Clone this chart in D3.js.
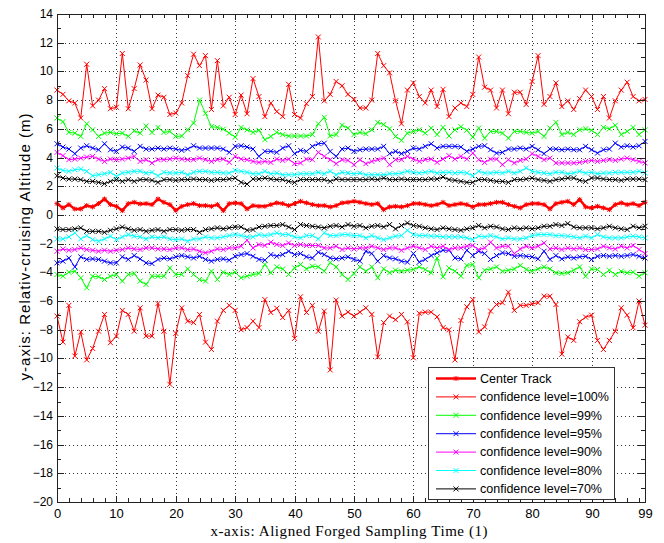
<!DOCTYPE html>
<html>
<head>
<meta charset="utf-8">
<script src="https://cdn.jsdelivr.net/npm/d3@7"></script>
<style>
  body { margin: 0; background: #fff; }
  text { font-family: 'Liberation Sans', Arial, sans-serif; fill: #000; }
  .grid line { stroke: #333; stroke-dasharray: 1,3; }
  .grid path { display: none; }
  .tk path { display: none; }
  .tk line { stroke: #222; }
</style>
</head>
<body>
<div id="plot"></div>
<script>

// ---- data ----
var xTicks = [0, 10, 20, 30, 40, 50, 60, 70, 80, 90, 99];
var yTicks = [-20, -18, -16, -14, -12, -10, -8, -6, -4, -2, 0, 2, 4, 6, 8, 10, 12, 14];

var legendLabels = ['Center Track', 'confidence level=100%', 'confidence level=99%', 'confidence level=95%',
  'confidence level=90%', 'confidence level=80%', 'confidence level=70%'];
var levelColors = ['#ff0000', '#ff0000', '#00ff00', '#0000ff', '#ff00ff', '#00ffff', '#000000'];

var center = [0.79,0.49,0.72,0.42,0.42,0.65,0.56,0.79,1.11,0.72,
  0.6,0.3,0.79,0.88,0.77,0.79,0.72,1.11,0.88,0.72,
  0.32,0.6,0.72,0.79,0.65,0.65,0.6,0.72,0.3,0.79,
  0.84,0.79,0.42,0.65,0.6,0.6,0.72,0.84,0.79,0.65,
  0.79,0.95,0.84,0.72,0.65,0.65,0.56,0.65,0.84,0.88,
  0.95,0.88,0.79,0.72,0.79,0.37,0.56,0.6,0.56,0.65,
  0.79,0.79,0.72,0.65,0.72,0.88,0.65,0.72,0.79,0.72,
  0.56,0.72,0.72,0.79,0.88,0.88,0.72,0.6,0.49,0.72,
  0.79,0.79,0.72,0.42,0.79,0.88,0.95,0.72,1.07,0.56,
  0.49,0.6,0.49,0.37,0.72,0.84,0.72,0.79,0.65,0.88];

var up100 = [8.7,8.4,7.95,7.8,6.75,10.5,7.6,8.0,8.8,7.4,
  7.5,11.25,7.4,8.8,10.45,9.4,7.4,8.35,8.2,7.0,
  7.1,7.8,9.7,11.2,10.4,11.1,7.35,10.75,7.6,8.2,
  7.0,8.35,7.05,9.5,8.25,6.85,7.8,7.2,6.85,9.1,
  7.0,6.75,7.75,8.25,12.4,7.95,8.4,9.3,9.0,8.4,
  8.05,7.45,7.45,8.0,11.25,10.4,9.9,7.95,6.35,8.7,
  9.2,8.25,7.8,8.7,7.55,8.75,6.85,7.45,7.8,7.55,
  8.4,11.0,8.9,8.7,7.45,8.7,7.05,8.55,8.55,7.7,
  9.3,11.1,7.7,8.25,9.2,7.55,7.95,7.35,8.1,8.7,
  8.25,7.35,8.25,6.75,7.95,8.7,9.25,8.25,7.95,8.05];

var lo100 = [-7.05,-8.86,-6.3,-9.83,-8.16,-10.1,-9.3,-8.1,-6.93,-8.9,
  -8.44,-6.65,-6.93,-8.1,-6.47,-8.44,-8.44,-6.17,-8.1,-11.8,
  -8.25,-6.47,-7.4,-7.5,-6.93,-8.86,-9.37,-7.4,-6.65,-6.3,
  -6.65,-8.0,-7.85,-7.4,-7.85,-5.9,-6.8,-6.5,-7.15,-6.65,
  -8.6,-5.7,-6.8,-6.3,-8.1,-6.7,-10.8,-5.93,-7.05,-6.77,
  -7.05,-6.77,-6.47,-6.93,-9.9,-7.5,-7.05,-7.3,-6.93,-7.45,
  -9.95,-6.85,-6.77,-6.77,-7.1,-7.85,-8.0,-10.1,-7.35,-6.4,
  -5.9,-8.15,-7.8,-6.7,-6.24,-6.12,-5.38,-6.65,-6.3,-6.3,
  -6.19,-6.12,-5.66,-5.66,-6.24,-9.7,-8.5,-8.74,-7.44,-7.12,
  -6.98,-8.74,-9.37,-8.74,-8.1,-6.47,-6.98,-7.86,-6.0,-7.68];

var up99 = [6.75,6.5,5.75,5.7,5.47,6.35,5.93,5.47,5.7,5.75,
  5.66,5.7,5.47,5.86,5.7,6.2,5.75,6.1,5.75,5.82,
  5.47,5.5,5.93,6.4,8.0,7.08,6.15,6.1,5.98,5.7,
  5.42,6.1,5.93,5.75,5.9,5.24,5.47,5.75,5.6,5.5,
  5.5,5.5,5.5,5.6,6.35,6.8,5.5,5.6,6.25,6.05,
  5.6,5.75,5.66,5.93,6.45,6.3,6.0,5.47,5.2,5.7,
  5.82,5.93,5.7,6.05,5.6,6.1,5.5,5.93,6.15,5.9,
  5.42,6.05,5.35,5.82,5.82,5.7,5.35,5.82,5.82,5.75,
  5.7,5.82,5.47,6.05,6.45,5.6,5.75,5.6,5.93,6.0,
  5.9,5.6,6.1,6.0,6.25,5.6,5.82,6.1,5.6,5.93];

var lo99 = [-4.15,-4.27,-3.99,-3.92,-4.38,-5.08,-4.27,-4.31,-4.5,-4.27,
  -4.15,-4.61,-4.15,-4.08,-4.61,-4.84,-4.27,-4.27,-4.27,-3.69,
  -4.15,-4.15,-3.76,-4.15,-4.5,-4.61,-3.92,-4.5,-3.99,-4.15,
  -3.99,-4.38,-4.27,-4.15,-4.08,-3.45,-4.03,-3.62,-3.76,-4.15,
  -3.69,-3.45,-3.76,-3.57,-3.62,-3.92,-3.32,-3.62,-4.15,-4.5,
  -4.08,-3.62,-3.92,-3.62,-4.38,-3.76,-4.03,-3.85,-3.92,-3.85,
  -3.8,-3.62,-3.8,-4.03,-3.0,-4.31,-3.69,-3.92,-4.27,-3.52,
  -3.45,-4.38,-3.85,-3.76,-3.62,-3.92,-3.85,-3.76,-3.52,-3.8,
  -3.92,-3.76,-3.62,-3.76,-4.03,-4.08,-4.03,-3.85,-3.62,-4.27,
  -3.76,-3.8,-4.15,-3.85,-4.15,-3.92,-4.03,-3.99,-4.27,-4.03];

var up95 = [4.96,4.73,4.59,4.27,4.66,4.82,4.66,4.54,4.96,4.54,
  4.43,4.73,4.66,4.43,4.78,4.59,4.59,4.66,4.59,4.66,
  4.59,4.5,4.59,4.82,4.66,4.66,4.66,4.66,4.59,4.36,
  4.78,4.82,4.73,4.59,4.08,4.43,4.43,4.36,4.66,4.82,
  4.27,4.5,4.43,4.78,4.96,5.0,4.43,4.08,4.59,4.66,
  4.43,4.54,4.59,4.59,4.59,4.78,4.27,4.43,4.27,4.43,
  4.66,4.59,4.78,4.96,4.66,4.78,4.78,4.78,4.73,4.43,
  4.59,4.78,4.82,4.54,4.31,4.36,4.59,4.59,4.66,4.59,
  4.78,4.54,4.27,4.59,4.59,4.54,4.59,4.54,4.54,4.78,
  4.54,4.31,4.54,4.59,5.0,4.73,4.82,4.73,4.82,5.12];

var lo95 = [-3.34,-3.22,-3.0,-3.62,-2.92,-3.1,-3.06,-3.1,-3.22,-3.34,
  -3.34,-2.92,-3.1,-2.83,-3.06,-3.34,-3.39,-3.1,-3.0,-3.06,
  -2.92,-2.83,-2.92,-3.0,-2.88,-3.1,-3.22,-3.1,-3.06,-3.15,
  -2.88,-2.76,-2.69,-2.88,-3.1,-3.15,-2.76,-2.88,-2.76,-2.53,
  -2.76,-2.69,-2.92,-3.0,-2.6,-2.76,-3.0,-3.06,-3.0,-2.92,
  -3.1,-3.22,-2.53,-2.69,-3.22,-2.83,-3.0,-3.06,-3.22,-3.29,
  -2.69,-3.29,-3.1,-2.83,-2.64,-2.46,-2.46,-3.0,-3.06,-2.46,
  -2.83,-2.53,-2.69,-3.1,-2.83,-2.64,-2.69,-2.88,-2.83,-2.88,
  -2.92,-3.06,-2.53,-3.1,-2.83,-3.06,-2.92,-3.0,-2.92,-2.88,
  -3.1,-2.88,-2.83,-2.88,-2.83,-2.88,-2.83,-2.76,-2.88,-3.0];

var up90 = [4.36,4.13,3.85,3.89,3.96,4.03,4.08,3.89,3.73,3.89,
  3.85,3.89,3.96,4.08,3.73,3.85,3.62,3.85,3.85,3.89,
  3.96,3.89,3.85,3.85,3.96,3.85,3.73,3.85,3.89,3.66,
  4.08,3.89,3.85,3.73,3.66,3.73,3.66,3.89,3.8,3.89,
  3.57,3.62,3.89,3.85,4.36,4.08,3.85,3.57,3.85,3.8,
  3.5,3.85,3.57,3.73,3.85,3.96,3.5,3.85,3.85,4.08,
  3.89,3.73,3.85,3.89,3.66,3.89,4.13,3.89,4.08,3.89,
  4.31,3.85,3.66,3.89,3.89,3.5,3.85,3.62,3.8,3.89,
  4.27,4.08,3.85,3.96,3.62,3.62,3.62,3.62,3.66,3.73,
  3.8,3.73,3.8,3.85,3.8,3.89,3.96,3.85,3.73,3.62];

var lo90 = [-2.53,-2.37,-2.46,-2.41,-2.3,-2.41,-2.46,-2.53,-2.46,-2.53,
  -2.46,-2.41,-2.3,-2.37,-2.41,-2.3,-2.3,-2.37,-2.37,-2.41,
  -2.3,-2.3,-2.41,-2.37,-2.53,-2.64,-2.53,-2.37,-2.41,-2.3,
  -2.3,-2.18,-1.76,-2.3,-2.06,-2.13,-1.9,-2.06,-2.13,-1.95,
  -2.13,-2.06,-2.13,-2.13,-2.13,-2.3,-2.3,-2.18,-2.41,-2.3,
  -2.37,-2.3,-2.3,-2.18,-2.3,-2.41,-2.3,-2.3,-2.46,-2.3,
  -2.18,-2.3,-2.41,-2.18,-2.3,-2.18,-2.41,-2.3,-2.3,-2.18,
  -2.13,-2.41,-2.3,-1.9,-2.3,-2.18,-2.18,-2.69,-2.37,-2.18,
  -2.3,-2.18,-1.95,-2.37,-2.3,-2.41,-2.3,-2.37,-2.3,-2.41,
  -2.41,-2.37,-2.18,-2.3,-2.37,-2.18,-2.3,-2.13,-2.41,-2.69];

var up80 = [3.27,3.1,3.04,3.15,3.2,3.04,2.73,2.8,2.87,2.97,
  2.69,2.92,2.97,3.04,3.04,2.92,2.97,2.73,2.97,2.92,
  2.92,2.97,2.8,2.97,3.04,3.04,2.97,2.97,2.92,2.92,
  3.1,3.04,2.97,2.87,2.87,3.04,2.87,2.92,2.8,2.8,
  2.8,2.87,2.87,2.87,2.97,2.87,3.04,2.8,2.97,2.92,
  2.87,2.92,2.8,2.8,2.8,2.8,2.87,2.87,2.92,3.04,
  2.97,2.92,2.97,3.04,2.92,2.97,2.97,2.92,2.97,2.92,
  2.73,3.04,2.92,2.92,2.97,2.92,3.04,2.92,3.04,3.27,
  3.04,2.97,2.92,2.87,2.97,2.97,2.87,2.92,3.04,2.92,
  2.97,2.87,2.92,2.92,2.97,2.97,2.97,2.97,3.04,2.92];

var lo80 = [-1.67,-1.67,-1.53,-1.25,-1.67,-1.44,-1.72,-1.83,-1.67,-1.48,
  -1.72,-1.53,-1.37,-1.48,-1.53,-1.67,-1.53,-1.6,-1.53,-1.67,
  -1.72,-1.67,-1.83,-1.67,-1.67,-1.53,-1.6,-1.6,-1.53,-1.44,
  -1.37,-1.44,-1.53,-1.53,-1.37,-1.44,-1.37,-1.25,-1.37,-1.37,
  -1.53,-1.6,-1.44,-1.44,-1.67,-1.25,-1.44,-1.44,-1.37,-1.37,
  -1.44,-1.44,-1.6,-1.44,-1.6,-1.72,-1.6,-1.48,-1.44,-1.07,
  -1.37,-1.44,-1.44,-1.48,-1.48,-1.53,-1.53,-1.53,-1.53,-1.6,
  -1.72,-1.48,-1.53,-1.44,-1.53,-1.67,-1.6,-1.67,-1.67,-1.6,
  -1.44,-1.37,-1.37,-1.37,-1.44,-1.44,-1.48,-1.53,-1.6,-1.48,
  -1.6,-1.37,-1.53,-1.6,-1.6,-1.6,-1.53,-1.48,-1.53,-1.6];

var up70 = [2.73,2.57,2.5,2.5,2.46,2.34,2.34,2.27,2.18,2.34,
  2.46,2.34,2.46,2.34,2.46,2.46,2.41,2.27,2.46,2.46,
  2.41,2.46,2.46,2.5,2.46,2.46,2.41,2.46,2.46,2.5,
  2.57,2.27,2.15,2.5,2.5,2.57,2.5,2.46,2.46,2.34,
  2.27,2.46,2.46,2.46,2.46,2.46,2.34,2.5,2.46,2.46,
  2.46,2.46,2.46,2.5,2.46,2.57,2.46,2.46,2.5,2.46,
  2.46,2.46,2.46,2.5,2.5,2.64,2.46,2.41,2.34,2.27,
  2.27,2.46,2.46,2.41,2.34,2.34,2.27,2.46,2.46,2.5,
  2.57,2.46,2.41,2.34,2.46,2.5,2.57,2.57,2.41,2.34,
  2.57,2.57,2.5,2.46,2.46,2.41,2.5,2.5,2.5,2.46];

var lo70 = [-0.97,-1.02,-1.02,-0.97,-0.9,-1.14,-1.14,-1.14,-1.21,-1.07,
  -0.97,-0.84,-0.97,-1.07,-1.02,-1.14,-1.07,-1.02,-1.14,-1.02,
  -1.02,-1.07,-1.02,-1.02,-1.21,-1.02,-0.97,-0.9,-0.97,-0.9,
  -0.84,-0.84,-1.07,-1.02,-0.84,-0.79,-0.74,-0.74,-0.67,-0.84,
  -1.02,-0.67,-0.74,-0.79,-0.84,-0.9,-0.79,-0.74,-0.84,-0.67,
  -0.79,-0.74,-0.9,-0.79,-0.74,-0.84,-0.67,-0.97,-0.74,-0.56,
  -0.74,-0.79,-0.9,-0.97,-1.02,-0.9,-0.97,-1.02,-1.07,-0.97,
  -0.9,-0.74,-0.9,-0.79,-0.84,-0.97,-1.02,-0.9,-0.97,-0.9,
  -0.97,-0.9,-0.79,-0.79,-0.67,-0.74,-0.6,-0.84,-0.9,-0.9,
  -0.9,-0.97,-0.9,-0.79,-0.9,-0.97,-1.02,-0.79,-0.9,-0.79];

// ---- chart ----
var chart = {};

chart.CROSS = 'M-2.5,-2.5L2.5,2.5M-2.5,2.5L2.5,-2.5';
chart.STAR = 'M-2,-2L2,2M-2,2L2,-2M0,-2.5L0,2.5M-2.5,0L2.5,0';

chart.draw_series = function(g, values, color, width, marker) {

  var line = d3.line()
    .x(function(d, i) { return chart.xscale(i); })
    .y(function(d) { return chart.yscale(d); });

  g.append('path')
    .datum(values)
    .attr('d', line)
    .attr('fill', 'none')
    .attr('stroke', color)
    .attr('stroke-width', width);

  g.append('g').selectAll('path')
    .data(values)
    .enter().append('path')
      .attr('d', marker)
      .attr('transform', function(d, i) {
        return 'translate(' + chart.xscale(i) + ',' + chart.yscale(d) + ')';
      })
      .attr('fill', 'none')
      .attr('stroke', color)
      .attr('stroke-width', 1);

};

chart.init = function() {

  var left = 57, right = 645, top = 14, bottom = 502;

  chart.xscale = d3.scaleLinear().domain([0, 99]).range([left, right]);
  chart.yscale = d3.scaleLinear().domain([-20, 14]).range([bottom, top]);

  // rounded copies so ticks and grid land on whole pixels
  var xr = chart.xscale.copy().interpolate(d3.interpolateRound);
  var yr = chart.yscale.copy().interpolate(d3.interpolateRound);

  var svg = d3.select('#plot').append('svg')
    .attr('width', 664)
    .attr('height', 543);

  svg.append('rect').attr('width', 664).attr('height', 543).attr('fill', '#fff');

  // dotted grid
  svg.append('g')
    .attr('class', 'grid')
    .attr('transform', 'translate(0,' + bottom + ')')
    .call(d3.axisBottom(xr).tickValues(xTicks.slice(1, -1)).tickSize(-(bottom - top)).tickFormat(''));

  svg.append('g')
    .attr('class', 'grid')
    .attr('transform', 'translate(' + left + ',0)')
    .call(d3.axisLeft(yr).tickValues(yTicks.slice(1, -1)).tickSize(-(right - left)).tickFormat(''));

  // series: center track first, then upper/lower bands per level
  var plot = svg.append('g');
  chart.draw_series(plot, center, levelColors[0], 2.5, chart.STAR);
  var bands = [[up100, lo100], [up99, lo99], [up95, lo95], [up90, lo90], [up80, lo80], [up70, lo70]];
  bands.forEach(function(b, k) {
    chart.draw_series(plot, b[0], levelColors[k + 1], 1, chart.CROSS);
    chart.draw_series(plot, b[1], levelColors[k + 1], 1, chart.CROSS);
  });

  // ticks, inward, on all four sides
  var xMinor = d3.range(2, 99, 2).filter(function(v) { return v % 10 != 0; });
  var yMinor = d3.range(-19, 14, 2);

  var bx = svg.append('g').attr('class', 'tk xaxis').attr('transform', 'translate(0,' + bottom + ')');
  bx.call(d3.axisBottom(xr).tickValues(xTicks).tickSizeInner(-6).tickSizeOuter(0).tickPadding(7));
  bx.append('g').call(d3.axisBottom(xr).tickValues(xMinor).tickSize(-4).tickFormat(''));

  var tx = svg.append('g').attr('class', 'tk').attr('transform', 'translate(0,' + top + ')');
  tx.call(d3.axisTop(xr).tickValues(xTicks).tickSize(-6).tickFormat(''));
  tx.append('g').call(d3.axisTop(xr).tickValues(xMinor).tickSize(-4).tickFormat(''));

  var ly = svg.append('g').attr('class', 'tk yaxis').attr('transform', 'translate(' + left + ',0)');
  ly.call(d3.axisLeft(yr).tickValues(yTicks).tickSizeInner(-7).tickSizeOuter(0).tickPadding(4));
  ly.append('g').call(d3.axisLeft(yr).tickValues(yMinor).tickSize(-4).tickFormat(''));

  var ry = svg.append('g').attr('class', 'tk').attr('transform', 'translate(' + right + ',0)');
  ry.call(d3.axisRight(yr).tickValues(yTicks).tickSize(-7).tickFormat(''));
  ry.append('g').call(d3.axisRight(yr).tickValues(yMinor).tickSize(-4).tickFormat(''));

  svg.selectAll('.xaxis text').attr('font-size', 13).style('font-family', null);
  svg.selectAll('.yaxis text').attr('font-size', 12).style('font-family', null);
  svg.selectAll('.tk text').attr('font-family', null);

  // frame
  svg.append('rect')
    .attr('x', left + 0.5).attr('y', top + 0.5)
    .attr('width', right - left).attr('height', bottom - top)
    .attr('fill', 'none').attr('stroke', '#222');

  // axis titles
  svg.append('text')
    .attr('x', 349).attr('y', 536)
    .attr('text-anchor', 'middle')
    .attr('textLength', 277).attr('lengthAdjust', 'spacing')
    .style('font-family', "'Liberation Serif', 'Times New Roman', serif")
    .style('font-size', '15px')
    .text('x-axis: Aligned Forged Sampling Time (1)');

  svg.append('text')
    .attr('transform', 'translate(30,247) rotate(-90)')
    .attr('text-anchor', 'middle')
    .attr('textLength', 267).attr('lengthAdjust', 'spacing')
    .style('font-size', '15px')
    .text('y-axis: Relativ-cruising Altitude (m)');

  // legend
  var lg = svg.append('g').attr('transform', 'translate(428,367)');
  lg.append('rect')
    .attr('x', 0.5).attr('y', 0.5).attr('width', 186).attr('height', 132)
    .attr('fill', '#fff').attr('stroke', '#333');

  legendLabels.forEach(function(label, k) {
    var yy = 11.5 + k * 18.4;
    var row = lg.append('g').attr('transform', 'translate(0,' + yy + ')');
    row.append('line')
      .attr('x1', 8).attr('x2', 48)
      .attr('stroke', levelColors[k])
      .attr('stroke-width', k == 0 ? 2.5 : 1);
    row.append('path')
      .attr('d', k == 0 ? chart.STAR : chart.CROSS)
      .attr('transform', 'translate(28,0)')
      .attr('fill', 'none')
      .attr('stroke', levelColors[k]);
    row.append('text')
      .attr('x', 52).attr('dy', '0.35em')
      .style('font-size', '12.5px')
      .text(label);
  });

};

chart.init();
</script>
</body>
</html>
